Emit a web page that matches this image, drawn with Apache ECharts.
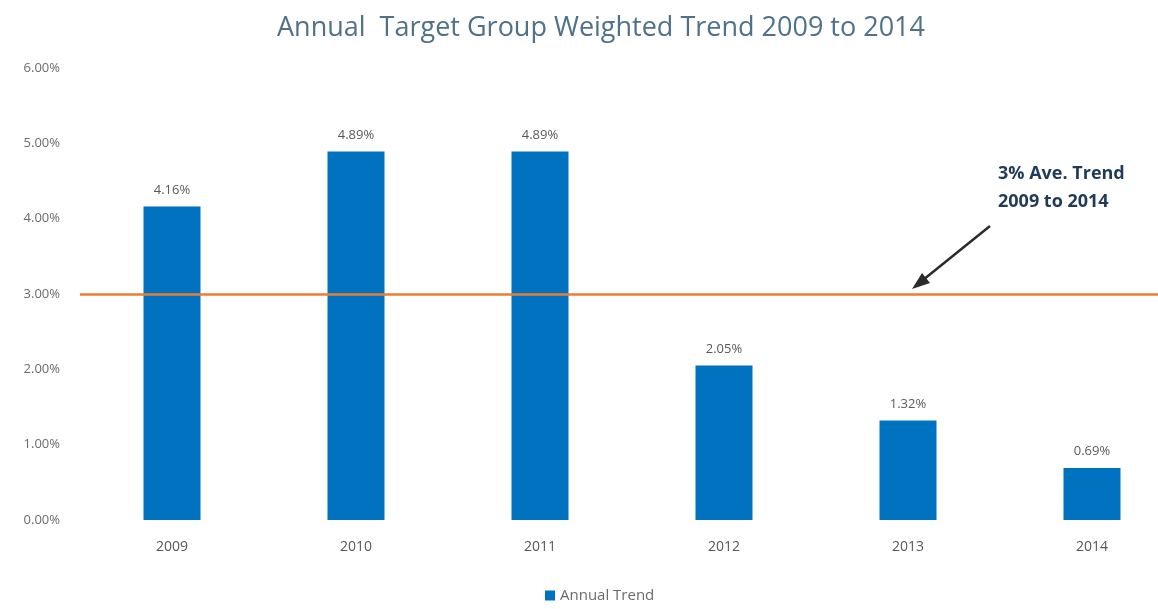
<!DOCTYPE html>
<html>
<head>
<meta charset="utf-8">
<script src="https://cdn.jsdelivr.net/npm/echarts@6/dist/echarts.min.js"></script>
<style>
  html, body { margin: 0; padding: 0; background: #fff; overflow: hidden; }
  /* a bit wider than the window: the last category runs past the right edge, as in the scan */
  #chart { width: 1184px; height: 609px; }
</style>
</head>
<body>
<div id="chart"></div>
<script>
const years = ['2009', '2010', '2011', '2012', '2013', '2014'];
const annualTrend = [4.16, 4.89, 4.89, 2.05, 1.32, 0.69];
const avgTrend = 3.0;
const yTicks = [0, 1, 2, 3, 4, 5, 6];

const chart = echarts.init(document.getElementById('chart'));

const option = {
  backgroundColor: '#ffffff',
  animation: false,
  title: {
    text: 'Annual  Target Group Weighted Trend 2009 to 2014',
    left: 272,
    top: 10,
    textStyle: {
      fontFamily: 'Open Sans',
      fontWeight: 'normal',
      fontSize: 27,
      color: '#4f7189'
    }
  },
  legend: {
    bottom: 1,
    left: 540,
    itemWidth: 10,
    itemHeight: 10,
    itemGap: 6,
    icon: 'rect',
    textStyle: { color: '#6b6b6b', fontSize: 15, fontFamily: 'Open Sans' },
    data: ['Annual Trend']
  },
  grid: { left: 80, right: 0, top: 68, bottom: 89 },
  xAxis: {
    type: 'category',
    data: years,
    axisLine: { show: false },
    axisTick: { show: false },
    axisLabel: { color: '#595959', fontSize: 14, margin: 20, fontFamily: 'Open Sans' }
  },
  yAxis: {
    type: 'value',
    min: yTicks[0],
    max: yTicks[yTicks.length - 1],
    interval: 1,
    splitLine: { show: false },
    axisLine: { show: false },
    axisLabel: {
      color: '#6b6b6b',
      fontSize: 13,
      margin: 20,
      fontFamily: 'Open Sans',
      formatter: v => v.toFixed(2) + '%'
    }
  },
  series: [{
    name: 'Annual Trend',
    type: 'bar',
    data: annualTrend,
    barWidth: 57,
    itemStyle: { color: '#0072c0' },
    label: {
      show: true,
      position: 'top',
      distance: 10,
      color: '#595959',
      fontSize: 13,
      fontFamily: 'Open Sans',
      formatter: p => p.value.toFixed(2) + '%'
    },
    markLine: {
      silent: true,
      symbol: ['none', 'none'],
      label: { show: false },
      lineStyle: { color: '#ed7d31', width: 2.5, type: 'solid' },
      data: [{ yAxis: avgTrend }]
    }
  }],
  graphic: [
    {
      type: 'text',
      left: 998,
      top: 160,
      style: {
        text: '3% Ave. Trend\n2009 to 2014',
        fill: '#1f3b57',
        font: 'bold 18px "Open Sans"',
        lineHeight: 28
      }
    },
    {
      type: 'line',
      shape: { x1: 990, y1: 226, x2: 918, y2: 284 },
      style: { stroke: '#2b2b2b', lineWidth: 2.5 }
    },
    {
      type: 'polygon',
      shape: { points: [[912, 289], [922, 273], [930, 283]] },
      style: { fill: '#2b2b2b' }
    }
  ]
};

chart.setOption(option);
</script>
</body>
</html>
